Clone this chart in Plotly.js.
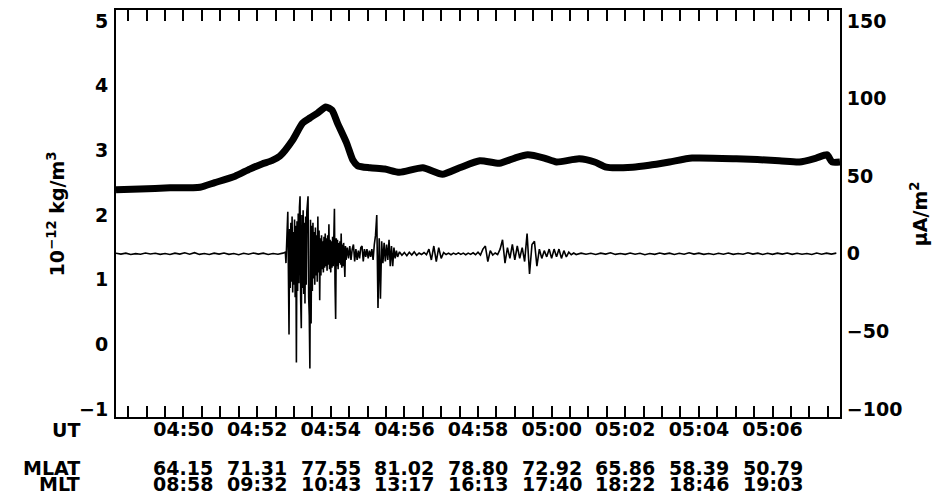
<!DOCTYPE html>
<html>
<head>
<meta charset="utf-8">
<script src="https://cdn.plot.ly/plotly-3.0.1.min.js"></script>
<style>html,body{margin:0;padding:0;background:#fff}#chart{width:935px;height:500px}</style>
</head>
<body>
<div id="chart"></div>
<script>
// ---- data (times in seconds after 04:48:00 UT) ----
const densSec = [10,49,98,147,171,204,228,248,264,277,298,314,326,339,352,362,371,386,396,404,424,448,472,510,542,570,603,635,660,681,708,728,765,790,809,852,879,912,949,1021,1091,1124,1151,1169,1177,1190];
const densVal = [2.39,2.40,2.42,2.43,2.50,2.60,2.71,2.79,2.84,2.91,3.16,3.42,3.50,3.58,3.67,3.62,3.42,3.11,2.85,2.76,2.73,2.71,2.66,2.73,2.63,2.73,2.84,2.80,2.88,2.93,2.88,2.82,2.87,2.82,2.74,2.74,2.77,2.82,2.88,2.87,2.84,2.82,2.88,2.93,2.82,2.82];

const curSec = [
 10,18,26,34,42,50,58,66,74,82,90,98,106,114,122,130,138,146,154,162,170,178,186,194,202,210,218,226,234,242,250,258,266,274,282,
 286,287,288,289,290,291,292,293,294,295,296,297,298,299,300,301,302,303,304,305,
 306,307,308,309,310,311,312,313,314,315,316,317,318,319,320,321,322,323,324,325,
 326,327,328,329,330,331,332,333,334,335,336,337,338,339,340,341,342,343,344,345,
 346,347,348,349,350,351,352,353,354,355,356,357,358,359,360,361,362,363,364,365,
 366,367,368,369,370,371,372,373,374,375,376,377,378,379,380,381,382,383,384,385,
 387,389,391,393,395,397,399,401,403,405,407,409,411,413,415,417,419,421,423,425,
 427,429,431,433,435,437,439,441,443,445,447,449,451,453,455,457,459,461,463,465,467,469,
 472,476,480,484,488,492,496,500,504,508,512,516,520,524,528,532,536,540,544,548,
 552,556,560,564,568,572,576,580,584,588,592,596,600,604,608,612,616,620,624,628,
 632,636,640,644,648,652,656,660,664,668,672,676,680,684,688,692,696,700,704,708,
 712,716,720,724,728,732,736,740,744,748,752,756,760,
 768,776,784,792,800,808,816,824,832,840,848,856,864,872,880,888,896,904,912,920,
 928,936,944,952,960,968,976,984,992,1000,1008,1016,1024,1032,1040,1048,1056,1064,1072,1080,
 1088,1096,1104,1112,1120,1128,1136,1144,1152,1160,1168,1176,1184
];
const curVal = [
 0.3,-0.2,0.4,-0.5,0.1,-0.3,0.5,-0.1,0.3,-0.4,0.2,-0.5,0.4,-0.2,0.6,-0.3,0.7,-0.4,0.2,-0.5,0.4,-0.2,0.5,-0.4,0.2,-0.6,0.3,-0.3,0.5,-0.2,0.4,-0.5,0.2,-0.3,0.4,
 1,-6,12,18,27,-12,-52,16,-22,20,-18,24,-25,14,-20,22,-28,18,-70,21,
 -24,26,-19,30,37,-30,-48,25,-22,28,-26,20,-32,24,-20,27,33,37,-28,-40,
 -74,22,-45,18,-24,20,-16,14,-20,17,-14,12,-18,24,-12,15,-30,10,-14,12,
 -10,8,-12,11,-9,13,-8,10,-11,12,-7,19,-10,9,-12,8,-9,11,-8,14,
 29,-20,-42,10,-8,9,-10,7,-6,8,-7,13,-9,6,-8,7,-10,-15,5,-4,
 4,-3,5,-4,3,6,-5,3,-4,2,-3,4,5,-5,3,-2,3,-3,2,-2,
 3,-4,6,12,25,-35,10,-29,8,-6,7,-5,6,-4,9,-8,5,-8,4,-3,2,-2,
 1.2,-1,0.8,-1.2,1,-0.8,1.2,-1,0.5,-0.5,0.8,-0.6,3,-4,5,-5,4,-3,0.8,-0.5,
 0.4,-0.6,0.4,-0.4,0.6,-0.4,0.4,-0.6,0.4,-0.4,0.6,-0.6,1,-0.8,3,5,-5,2,-0.8,0.5,
 -0.5,3,9,-6,4,-3,6,-4,5,-3,4,-5,13,-13,6,8,-8,3,-3,2,
 -2,3,-3,3,-2,3,-3,2,-2,1,-0.6,0.5,-0.5,
 0.4,-0.3,0.3,-0.5,0.4,-0.2,0.6,-0.4,0.2,-0.4,0.5,-0.3,0.3,-0.6,0.2,-0.4,0.5,-0.2,0.4,-0.5,
 0.3,-0.3,0.6,-0.2,0.4,-0.4,0.2,-0.5,0.3,-0.3,0.5,-0.4,0.2,-0.3,0.6,-0.2,0.4,-0.5,0.3,-0.4,
 0.4,-0.2,0.5,-0.4,0.3,-0.3,0.2,-0.5,0.5,-0.3,0.4,-0.2,0.4
];

const utTicks = ['04:50','04:52','04:54','04:56','04:58','05:00','05:02','05:04','05:06'];
const mlat = ['64.15','71.31','77.55','81.02','78.80','72.92','65.86','58.39','50.79'];
const mlt  = ['08:58','09:32','10:43','13:17','16:13','17:40','18:22','18:46','19:03'];
const densTicks = [-1,0,1,2,3,4,5];
const curTicks = [-100,-50,0,50,100,150];

// ---- helpers ----
const DAY = '2000-01-01';
function pad(n){return (n<10?'0':'')+n;}
function secToDate(s){
  const tot = 4*3600 + 48*60 + s;
  const h = Math.floor(tot/3600), m = Math.floor((tot%3600)/60), ss = tot%60;
  return DAY+' '+pad(h)+':'+pad(m)+':'+pad(ss);
}

const FONT = {family:'"DejaVu Sans", sans-serif', size:19, color:'#000', weight:'bold'};

const traces = [
  {x: curSec.map(secToDate), y: curVal, yaxis:'y2', type:'scatter', mode:'lines',
   line:{color:'#000', width:1.6}, hoverinfo:'skip'},
  {x: densSec.map(secToDate), y: densVal, yaxis:'y', type:'scatter', mode:'lines',
   line:{color:'#000', width:7, shape:'spline', smoothing:0.6}, hoverinfo:'skip'}
];

const annotations = [];
annotations.push({xref:'paper', yref:'paper', x:-0.047, y:-0.032, xanchor:'right', yanchor:'middle',
  text:'UT', showarrow:false, font:FONT});
annotations.push({xref:'paper', yref:'paper', x:-0.047, y:-0.1253, xanchor:'right', yanchor:'middle',
  text:'MLAT', showarrow:false, font:FONT});
annotations.push({xref:'paper', yref:'paper', x:-0.047, y:-0.1634, xanchor:'right', yanchor:'middle',
  text:'MLT', showarrow:false, font:FONT});
utTicks.forEach((u,i)=>{
  annotations.push({xref:'x', yref:'paper', x:DAY+' '+u, y:-0.1253, xanchor:'center', yanchor:'middle',
    text:mlat[i], showarrow:false, font:FONT});
  annotations.push({xref:'x', yref:'paper', x:DAY+' '+u, y:-0.1634, xanchor:'center', yanchor:'middle',
    text:mlt[i], showarrow:false, font:FONT});
});
annotations.push({xref:'paper', yref:'paper', x:-0.083, y:0.5, xanchor:'center', yanchor:'middle',
  textangle:-90, text:'10<sup>\u221212</sup> kg/m<sup>3</sup>', showarrow:false, font:FONT});
annotations.push({xref:'paper', yref:'paper', x:1.1086, y:0.5, xanchor:'center', yanchor:'middle',
  textangle:-90, text:'\u03bcA/m<sup>2</sup>', showarrow:false, font:FONT});

const layout = {
  width:935, height:500,
  margin:{l:116, r:95, t:10, b:83},
  paper_bgcolor:'#fff', plot_bgcolor:'#fff',
  showlegend:false,
  font:FONT,
  xaxis:{
    type:'date',
    range:[secToDate(10), secToDate(1190)],
    tick0: DAY+' 04:50:00', dtick:120000, tickformat:'%H:%M',
    ticks:'inside', ticklen:11, tickwidth:2, tickcolor:'#000',
    minor:{dtick:30000, ticks:'inside', ticklen:6, tickwidth:2, tickcolor:'#000', showgrid:false},
    showline:true, linewidth:2, linecolor:'#000', mirror:'allticks',
    showgrid:false, zeroline:false, tickfont:FONT, ticklabelstandoff:-6, automargin:false
  },
  yaxis:{
    range:[-1.124, 5.17], tickmode:'array', tickvals:densTicks,
    ticks:'', showline:true, linewidth:2, linecolor:'#000',
    showgrid:false, zeroline:false, tickfont:FONT, ticklabelstandoff:2, automargin:false
  },
  yaxis2:{
    overlaying:'y', side:'right',
    range:[-105.2, 157.1], tickmode:'array', tickvals:curTicks,
    ticks:'', showline:true, linewidth:2, linecolor:'#000',
    showgrid:false, zeroline:false, tickfont:FONT, ticklabelstandoff:1, automargin:false
  },
  annotations:annotations
};

Plotly.newPlot('chart', traces, layout, {staticPlot:true, displayModeBar:false});
</script>
</body>
</html>
